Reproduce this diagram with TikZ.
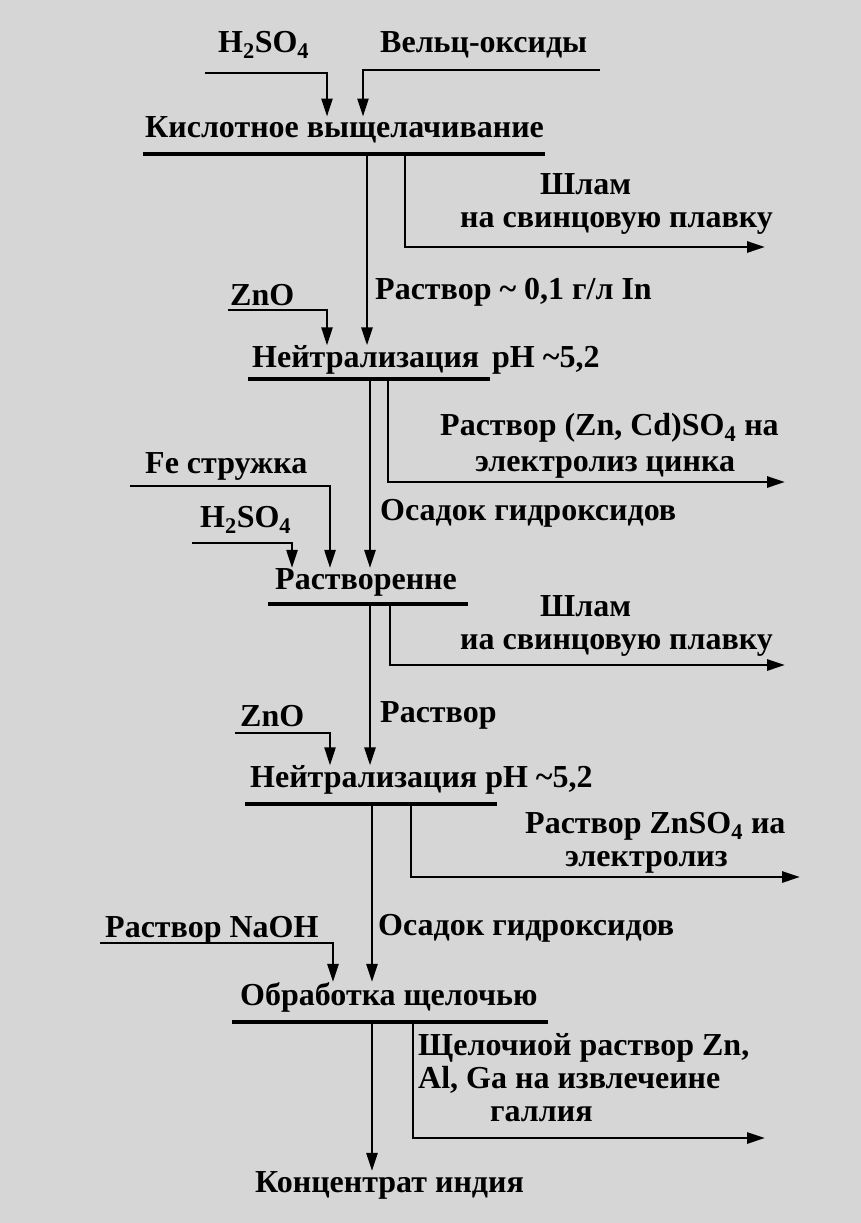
\documentclass[tikz,border=0pt]{standalone}
\usepackage{fontspec}
\setmainfont{Liberation Serif}
\usetikzlibrary{arrows.meta}
\definecolor{paper}{RGB}{214,214,214}

\begin{document}
\begin{tikzpicture}[
  x=1pt, y=-1pt,
  txt/.style={inner sep=0pt, anchor=west, align=left, font=\fontsize{32}{33}\selectfont\bfseries},
  flow/.style={line width=2.8pt, -{Triangle[length=18pt,width=11pt]}},
  feed/.style={line width=2.4pt, -{Triangle[length=18pt,width=11pt]}},
  bar/.style={line width=4.5pt}
]
  \fill[paper] (0,0) rectangle (861,1223);

  % acid leaching
  \node[txt] (h1) at (218,45) {H\textsubscript{2}SO\textsubscript{4}};
  \node[txt] (velz) at (380,45) {Вельц-оксиды};
  \node[txt] (leach) at (145,130) {Кислотное выщелачивание};
  \coordinate (h1a) at (205,73);  \coordinate (h1b) at (327,73);
  \coordinate (vza) at (600,70);  \coordinate (vzb) at (363,70);
  \draw[feed] (h1a) -- (h1b) -- (h1b |- leach.north);
  \draw[feed] (vza) -- (vzb) -- (vzb |- leach.north);
  \coordinate (b1l) at (143,154); \coordinate (b1r) at (545,154);
  \draw[bar] (b1l) -- (b1r);
  \node[txt] (sl1) at (460,204) {\hspace*{80pt}Шлам\\на свинцовую плавку};
  \coordinate (s1a) at (405,154); \coordinate (s1b) at (405,247); \coordinate (s1c) at (765,247);
  \draw[flow] (s1a) -- (s1b) -- (s1c);

  % neutralisation 1
  \node[txt] (zno1) at (230,295) {ZnO};
  \node[txt] (sol1) at (375,292) {Раствор \textasciitilde{} 0,1 г/л In};
  \node[txt] (neut1) at (252,360) {Нейтрализация};
  \node[txt] (ph1) at (492,360) {pH \textasciitilde5,2};
  \coordinate (z1a) at (228,310); \coordinate (z1b) at (327,310);
  \draw[feed] (z1a) -- (z1b) -- (z1b |- neut1.north);
  \coordinate (m1a) at (367,154);
  \draw[flow] (m1a) -- (m1a |- neut1.north);
  \coordinate (b2l) at (248,379); \coordinate (b2r) at (490,379);
  \draw[bar] (b2l) -- (b2r);
  \node[txt, font=\fontsize{32}{36}\selectfont\bfseries] (cd) at (440,446)
    {Раствор (Zn, Cd)SO\textsubscript{4} на\\\hspace*{35pt}электролиз цинка};
  \coordinate (s2a) at (388,379); \coordinate (s2b) at (388,482); \coordinate (s2c) at (785,482);
  \draw[flow] (s2a) -- (s2b) -- (s2c);

  % dissolution
  \node[txt] (fe) at (145,466) {Fe стружка};
  \node[txt] (h2) at (200,520) {H\textsubscript{2}SO\textsubscript{4}};
  \node[txt] (prec1) at (380,513) {Осадок гидроксидов};
  \node[txt] (diss) at (275,582) {Растворенне};
  \coordinate (fea) at (130,486); \coordinate (feb) at (330,486);
  \coordinate (h2a) at (192,543); \coordinate (h2b) at (292,543);
  \draw[feed] (fea) -- (feb) -- (feb |- diss.north);
  \draw[feed] (h2a) -- (h2b) -- (h2b |- diss.north);
  \coordinate (m2a) at (370,379);
  \draw[flow] (m2a) -- (m2a |- diss.north);
  \coordinate (b3l) at (268,604); \coordinate (b3r) at (468,604);
  \draw[bar] (b3l) -- (b3r);
  \node[txt] (sl2) at (460,626) {\hspace*{80pt}Шлам\\иа свинцовую плавку};
  \coordinate (s3a) at (390,604); \coordinate (s3b) at (390,665); \coordinate (s3c) at (785,665);
  \draw[flow] (s3a) -- (s3b) -- (s3c);

  % neutralisation 2
  \node[txt] (zno2) at (240,716) {ZnO};
  \node[txt] (sol3) at (380,715) {Раствор};
  \node[txt] (neut2) at (250,780) {Нейтрализация pH \textasciitilde5,2};
  \coordinate (z2a) at (235,733); \coordinate (z2b) at (330,733);
  \draw[feed] (z2a) -- (z2b) -- (z2b |- neut2.north);
  \coordinate (m3a) at (370,604);
  \draw[flow] (m3a) -- (m3a |- neut2.north);
  \coordinate (b4l) at (245,804); \coordinate (b4r) at (497,804);
  \draw[bar] (b4l) -- (b4r);
  \node[txt] (zs) at (525,843) {Раствор ZnSO\textsubscript{4} иа\\\hspace*{40pt}электролиз};
  \coordinate (s4a) at (411,804); \coordinate (s4b) at (411,877); \coordinate (s4c) at (800,877);
  \draw[flow] (s4a) -- (s4b) -- (s4c);

  % alkali treatment
  \node[txt] (naoh) at (105,930) {Раствор NaOH};
  \node[txt] (prec2) at (378,928) {Осадок гидроксидов};
  \node[txt] (alk) at (240,997) {Обработка щелочью};
  \coordinate (na) at (100,943); \coordinate (nb) at (333,943);
  \draw[feed] (na) -- (nb) -- (nb |- alk.north);
  \coordinate (m4a) at (372,804);
  \draw[flow] (m4a) -- (m4a |- alk.north);
  \coordinate (b5l) at (232,1022); \coordinate (b5r) at (548,1022);
  \draw[bar] (b5l) -- (b5r);
  \node[txt] (ga) at (418,1078) {Щелочиой раствор Zn,\\Al, Ga на извлечеине\\\hspace*{72pt}галлия};
  \coordinate (s5a) at (413,1022); \coordinate (s5b) at (413,1138); \coordinate (s5c) at (765,1138);
  \draw[flow] (s5a) -- (s5b) -- (s5c);

  % product
  \node[txt] (conc) at (255,1185) {Концентрат индия};
  \coordinate (m5a) at (372,1022);
  \draw[flow] (m5a) -- (m5a |- conc.north);
\end{tikzpicture}
\end{document}
